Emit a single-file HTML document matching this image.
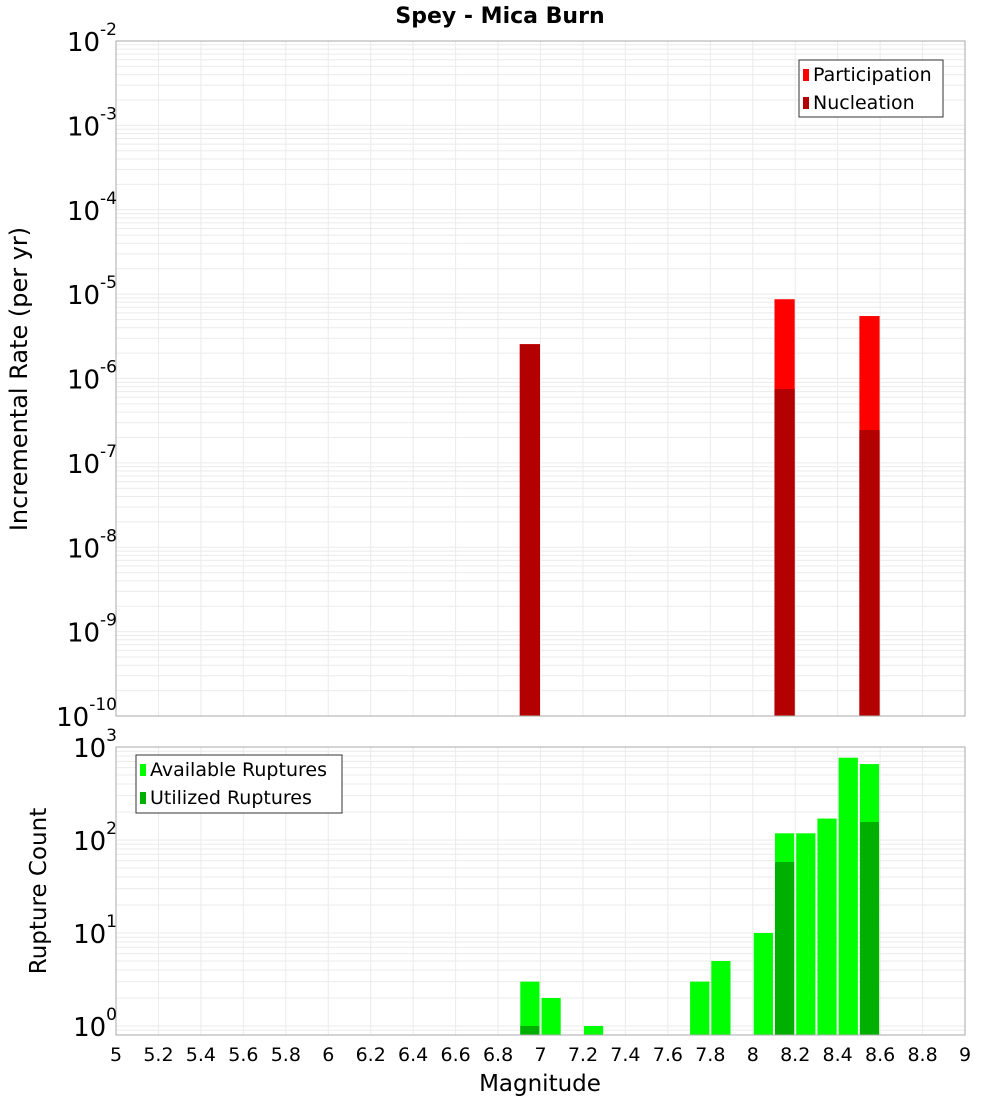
<!DOCTYPE html>
<html><head><meta charset="utf-8"><style>
body{margin:0;background:#fff;font-family:"Liberation Sans","DejaVu Sans",sans-serif}
</style></head><body>
<svg id="c" width="1000" height="1100" xmlns="http://www.w3.org/2000/svg" font-family="DejaVu Sans, Liberation Sans, sans-serif"></svg>
<script>
const binCenters=[6.95,8.15,8.55];
const participation=[2.55e-6,8.7e-6,5.5e-6];
const nucleation=[2.55e-6,7.5e-7,2.45e-7];
const countBins=[6.95,7.05,7.25,7.75,7.85,8.05,8.15,8.25,8.35,8.45,8.55];
const available=[3,2,1,3,5,10,118,118,170,767,655];
const utilBins=[6.95,8.15,8.55];
const utilized=[1,58,156];
const xTicks=["5","5.2","5.4","5.6","5.8","6","6.2","6.4","6.6","6.8","7","7.2","7.4","7.6","7.8","8","8.2","8.4","8.6","8.8","9"];
const topExps=[-2,-3,-4,-5,-6,-7,-8,-9,-10];
const botExps=[0,1,2,3];

const NS="http://www.w3.org/2000/svg";
const svg=document.getElementById('c');
function el(t,a,p){const e=document.createElementNS(NS,t);for(const k in a)e.setAttribute(k,a[k]);(p||svg).appendChild(e);return e;}
const X0=116,X1=965;
const x=m=>X0+(m-5)/4*(X1-X0);
const T0=41,T1=716;
const yT=v=>T0+(-2-Math.log10(v))/8*(T1-T0);
const B0=747,B1=1035;
const yB=v=>1026-Math.log10(v)*93;
const bw=0.1*(X1-X0)/4;

function grid(y0,y1,ys,lo,hi){
  for(let i=0;i<=20;i++){const l=el('line',{x1:x(5+i*0.2),x2:x(5+i*0.2),y1:y0,y2:y1,stroke:'#ebebeb','stroke-width':1});}
  for(let e=lo;e<hi;e++)for(let k=1;k<10;k++){const v=k*Math.pow(10,e);const yy=ys(v);if(yy<y0||yy>y1)continue;const l=el('line',{x1:X0,x2:X1,y1:yy,y2:yy,stroke:'#ebebeb','stroke-width':1});}
}
grid(T0,T1,yT,-10,-2);
grid(B0,B1,yB,-1,3);

binCenters.forEach((m,i)=>{
  const r=el('rect',{x:x(m)-bw/2+0.5,y:yT(participation[i]),width:bw-1,height:T1-yT(participation[i]),fill:'#ff0000'});
  
  const n=el('rect',{x:x(m)-bw/2+0.5,y:yT(nucleation[i]),width:bw-1,height:T1-yT(nucleation[i]),fill:'#b30000'});
  
});
countBins.forEach((m,i)=>{
  const r=el('rect',{x:x(m)-bw/2+1,y:yB(available[i]),width:bw-2,height:B1-yB(available[i]),fill:'#00ff00'});
  
});
utilBins.forEach((m,i)=>{
  const r=el('rect',{x:x(m)-bw/2+1,y:yB(utilized[i]),width:bw-2,height:B1-yB(utilized[i]),fill:'#00b000'});
  
});

let f=el('rect',{x:X0,y:T0,width:X1-X0,height:T1-T0,fill:'none',stroke:'#aaa'});
f=el('rect',{x:X0,y:B0,width:X1-X0,height:B1-B0,fill:'none',stroke:'#aaa'});

function ylab(e,yy,name){
  const t=el('text',{x:117,y:yy+10,'text-anchor':'end','font-size':26,fill:'#000'});
  
  t.textContent='10';
  const s=el('tspan',{dy:-16,'font-size':17},t);s.textContent=String(e);
}
topExps.forEach(e=>ylab(e,yT(Math.pow(10,e)),'y-tick-label'));
botExps.forEach(e=>ylab(e,yB(Math.pow(10,e)),'count-tick-label'));

xTicks.forEach(s=>{
  const t=el('text',{x:x(parseFloat(s)),y:1061,'text-anchor':'middle','font-size':19,fill:'#000'});
  t.textContent=s;
});

let t=el('text',{x:540,y:1091,'text-anchor':'middle','font-size':23});t.textContent='Magnitude';
t=el('text',{x:0,y:0,'text-anchor':'middle','font-size':24,transform:'translate(27,379) rotate(-90)'});t.textContent='Incremental Rate (per yr)';
t=el('text',{x:0,y:0,'text-anchor':'middle','font-size':23,transform:'translate(46,891) rotate(-90)'});t.textContent='Rupture Count';
t=el('text',{x:500,y:23,'text-anchor':'middle','font-size':22,'font-weight':'bold'});t.textContent='Spey - Mica Burn';

function legend(bx,by,w,h,items,name){
  const g=el('g',{});
  el('rect',{x:bx,y:by,width:w,height:h,fill:'#fff',stroke:'#333'},g);
  items.forEach((it,i)=>{
    const sw=el('rect',{x:bx+4,y:by+9+i*28,width:6,height:12,fill:it[1]},g);
    
    const tt=el('text',{x:bx+14,y:by+21+i*28,'font-size':19},g);
    tt.textContent=it[0];
  });
}
legend(799,60,144,57,[['Participation','#ff0000'],['Nucleation','#b30000']],'rate-legend');
legend(136,755,206,58,[['Available Ruptures','#00ff00'],['Utilized Ruptures','#00b000']],'count-legend');
</script>
</body></html>
